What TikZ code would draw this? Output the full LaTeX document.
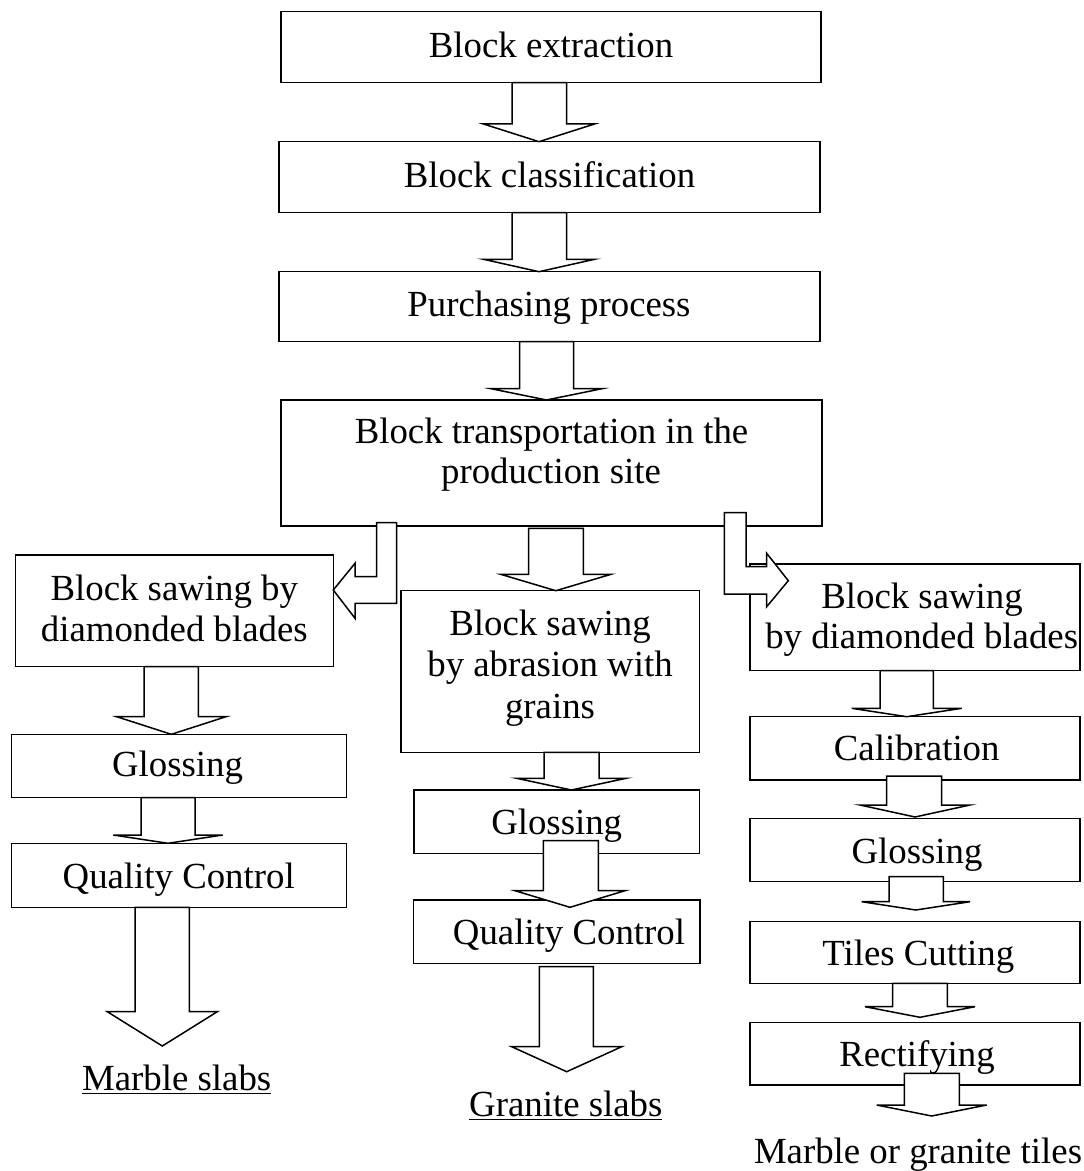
\documentclass[tikz,border=0pt]{standalone}
\usepackage{fontspec}
\setmainfont{Liberation Serif}
\newcommand\pbox[5]{\node[box, minimum width={(#4-#2)*0.5pt}, minimum height={(#5-#3)*0.5pt}] (#1) at ({(#2+#4)/2},{(#3+#5)/2}) {};}
\newcommand\barr[7]{\draw[barrow] (#1,#3) -- (#1,#4) -- (#5,#4) -- ({(#5+#6)/2},#7) -- (#6,#4) -- (#2,#4) -- (#2,#3) -- cycle;}
\begin{document}
\begin{tikzpicture}[x=0.5pt,y=-0.5pt,
  box/.style={draw, line width=0.75pt, fill=white, inner sep=0pt},
  txt/.style={anchor=base, inner sep=0pt, font=\fontsize{18.4}{20}\selectfont},
  barrow/.style={draw, fill=white, line width=0.75pt, line join=miter}]
\useasboundingbox (0,0) rectangle (1083,1171);
% top chain
\pbox{b1}{281}{11.7}{821}{82.7}
\pbox{b2}{279}{141.7}{820}{212.7}
\pbox{b3}{279}{271.7}{820}{341.7}
\pbox{b4}{281}{400}{822}{526}
% left column
\pbox{l1}{15.7}{555}{333.3}{666.7}
\pbox{l2}{11.5}{734.3}{346.5}{797.7}
\pbox{l3}{11.7}{843.3}{346.7}{907.3}
% middle column
\pbox{m1}{401}{590.7}{699.3}{752.3}
\pbox{m2}{414}{790}{699.5}{853.3}
\pbox{m3}{413.3}{900}{700}{963.3}
% right column
\pbox{r1}{750}{564}{1080}{670.7}
\pbox{r2}{750}{716.7}{1080}{780}
\pbox{r3}{750}{818.3}{1080}{881.7}
\pbox{r4}{750}{921.7}{1080}{983.3}
\pbox{r5}{750}{1022.7}{1080}{1085}
% block arrows, top chain
\barr{512}{566.5}{82.7}{124}{483.5}{594.5}{141.7}
\barr{512}{566.5}{212.7}{259.3}{483.5}{594.5}{271.7}
\barr{519.5}{573.5}{341.7}{388.7}{491}{602}{400}
% split arrows
\barr{528.7}{583.3}{528.3}{574.3}{500.7}{611}{590.7}
\draw[barrow] (376.7,522.7) -- (376.7,576.7) -- (355,576.7) -- (355,563.3) -- (333.3,590) -- (355,618.3) -- (355,603.3) -- (396.7,603.3) -- (396.7,522.7) -- cycle;
\draw[barrow] (724.3,512.7) -- (724.3,594) -- (766.7,594) -- (766.7,606.7) -- (788.3,580.7) -- (766.7,553.3) -- (766.7,566.7) -- (746,566.7) -- (746,512.7) -- cycle;
% left column arrows
\barr{144}{198.3}{666.7}{716.7}{116.7}{226}{734.3}
\barr{141}{195}{797.7}{835}{113.3}{222.7}{843.3}
\barr{135}{189.3}{907.3}{1011.7}{107.3}{217.3}{1046}
% middle column arrows
\barr{544}{599}{752.3}{778.3}{516.7}{626}{790}
\barr{543.3}{598.3}{840.7}{890.7}{515}{625}{907.3}
\barr{539.3}{593.3}{966.7}{1046.7}{511.7}{621.7}{1071.7}
% right column arrows
\barr{880}{933.3}{670.7}{708.3}{851.7}{961.7}{716.7}
\barr{886.7}{941.7}{776}{805}{860}{970}{817}
\barr{889}{943.3}{876.7}{901.7}{861.7}{970}{910}
\barr{892.7}{947.3}{983.3}{1006.7}{865}{975}{1017.3}
\barr{904.3}{959.3}{1073.3}{1105}{876.7}{986.7}{1116}
% texts
\node[txt] (t1) at (551,57.3) {Block extraction};
\node[txt] (t2) at (549.5,187.3) {Block classification};
\node[txt] (t3) at (549,316.7) {Purchasing process};
\node[txt] (t4a) at (551.5,443.3) {Block transportation in the};
\node[txt] (t4b) at (551,483.3) {production site};
\node[txt] (tl1a) at (174.3,600) {Block sawing by};
\node[txt] (tl1b) at (174.3,641.7) {diamonded blades};
\node[txt] (tl2) at (177.5,776.7) {Glossing};
\node[txt] (tl3) at (178.7,888.3) {Quality Control};
\node[txt] (tl4) at (176.7,1090) {\underline{Marble slabs}};
\node[txt] (tm1a) at (550,635) {Block sawing};
\node[txt] (tm1b) at (550,676.7) {by abrasion with};
\node[txt] (tm1c) at (550,718) {grains};
\node[txt] (tm2) at (556.7,834) {Glossing};
\node[txt] (tm3) at (569,944) {Quality Control};
\node[txt] (tm4) at (565.8,1116) {\underline{Granite slabs}};
\node[txt] (tr1a) at (922,608.3) {Block sawing};
\node[txt] (tr1b) at (921.7,648.3) {by diamonded blades};
\node[txt] (tr2) at (916.7,760) {Calibration};
\node[txt] (tr3) at (917,863.3) {Glossing};
\node[txt] (tr4) at (918.3,965) {Tiles Cutting};
\node[txt] (tr5) at (917,1066.7) {Rectifying};
\node[txt] (tr6) at (918,1163) {Marble or granite tiles};
\end{tikzpicture}
\end{document}
